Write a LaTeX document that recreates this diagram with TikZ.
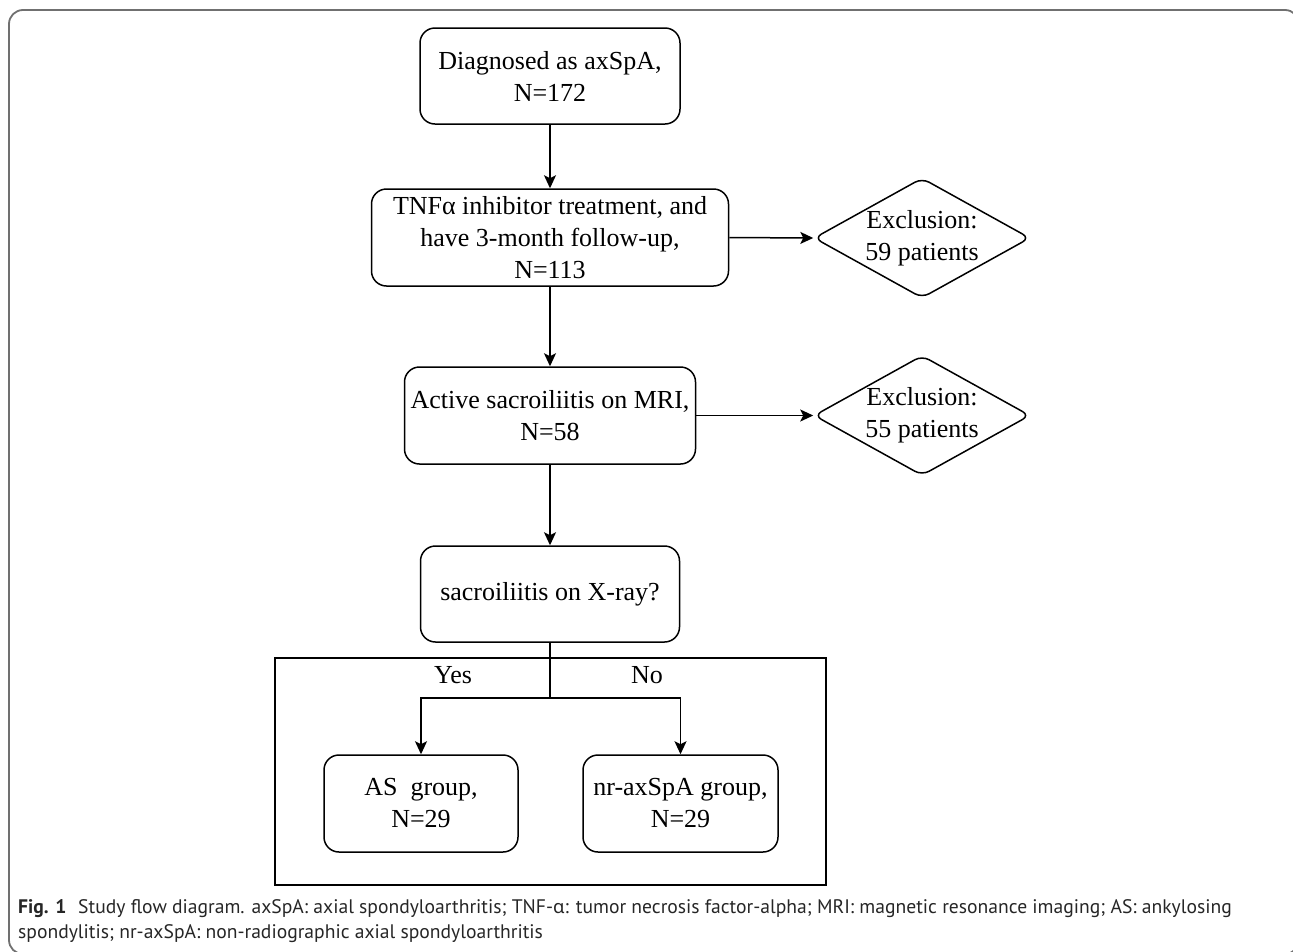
\documentclass[tikz,border=0pt]{standalone}
\usepackage{fontspec}
\setmainfont{Liberation Serif}
\newfontfamily\capfont{PT Sans}
\newfontfamily\capgreek{Noto Sans}
\usetikzlibrary{shapes.geometric,arrows.meta}
\definecolor{framegray}{HTML}{707070}
\begin{document}
\begin{tikzpicture}[x=1pt,y=-1pt,
  every node/.style={font=\fontsize{26}{32}\selectfont},
  flowbox/.style={draw, line width=1.5pt, rounded corners=15pt, align=center, inner sep=0pt},
  excl/.style={draw, diamond, line width=1.5pt, rounded corners=8pt, align=center, inner sep=0pt,
    minimum width=216pt, minimum height=120pt, aspect=1.8},
  arr/.style={line width=1.5pt, -{Stealth[length=13pt,width=12pt,inset=3pt]}},
  capline/.style={anchor=base west, inner sep=0pt, font=\capfont\fontsize{19.6}{24}\selectfont, text=black!85}
]
\useasboundingbox (0,0) rectangle (1293,951);
\draw[framegray, line width=1.8pt, rounded corners=14pt] (9,10) rectangle (1299,954);

\node[flowbox, minimum width=260pt, minimum height=96pt] (b1) at (550,76) {Diagnosed as axSpA,\\N=172};
\node[flowbox, minimum width=357pt, minimum height=97pt] (b2) at (550,237.5) {TNFα inhibitor treatment, and\\have 3-month follow-up,\\N=113};
\node[excl] (d1) at (922,238) {Exclusion:\\59 patients};
\node[flowbox, minimum width=291pt, minimum height=97pt] (b3) at (550,415.5) {Active sacroiliitis on MRI,\\N=58};
\node[excl] (d2) at (922,415.5) {Exclusion:\\55 patients};
\node[flowbox, minimum width=259pt, minimum height=96pt] (b4) at (550,594) {sacroiliitis on X-ray?};

\node[draw, line width=1.5pt, minimum width=551pt, minimum height=227pt, inner sep=0pt] (grp) at (550.5,771.5) {};

\node[flowbox, minimum width=194pt, minimum height=97pt] (as) at (421,803.5) {AS\ \ group,\\N=29};
\node[flowbox, minimum width=195pt, minimum height=97pt] (nr) at (680.5,803.5) {nr-axSpA group,\\N=29};

\node[anchor=base, inner sep=0pt] (yes) at (453,683) {Yes};
\node[anchor=base, inner sep=0pt] (no) at (647,683) {No};

\coordinate (split) at (550,698);

\draw[arr] (b1) -- (b2);
\draw[arr] (b2) -- (b3);
\draw[arr] (b3) -- (b4);
\draw[arr] (b2.east) -- (d1.west);
\draw[arr] (b3.east) -- (d2.west);
\draw[line width=1.5pt] (b4.south) -- (split);
\draw[arr] (split) -| (as.north);
\draw[arr] (split) -| (nr.north);

\node[capline] (cap1) at (18,913) {\textbf{Fig. 1}\hspace{0.6em}Study flow diagram. axSpA: axial spondyloarthritis; TNF-{\capgreek\fontsize{18.5}{24}\selectfont α}: tumor necrosis factor-alpha; MRI: magnetic resonance imaging; AS: ankylosing};
\node[capline] (cap2) at (18,938) {spondylitis; nr-axSpA: non-radiographic axial spondyloarthritis};
\end{tikzpicture}
\end{document}
